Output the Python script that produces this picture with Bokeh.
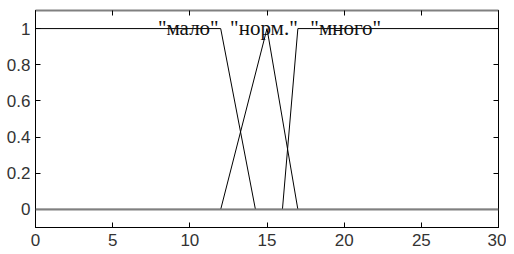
from bokeh.plotting import figure
from bokeh.models import LinearAxis, FixedTicker, CustomJSTickFormatter, Span, Range1d
from bokeh.core.properties import value
from bokeh.embed import file_html
from bokeh.resources import INLINE

# membership functions
malo_x = [0, 12, 14.25, 30]
malo_y = [1, 1, 0, 0]
norm_x = [0, 12, 15, 17, 30]
norm_y = [0, 0, 1, 0, 0]
mnogo_x = [0, 16, 17, 30]
mnogo_y = [0, 0, 1, 1]

label_text = ['"мало"', '"норм."', '"много"']
label_x = [9.9, 14.8, 20.1]
label_y = [1.0, 1.0, 1.0]

x_ticks = [0, 5, 10, 15, 20, 25, 30]
y_ticks = [0, 0.2, 0.4, 0.6, 0.8, 1]

p = figure(width=506, height=250, output_backend="svg", toolbar_location=None,
           x_range=Range1d(0, 30), y_range=Range1d(-0.1, 1.1),
           x_axis_location=None, y_axis_location=None,
           min_border_left=35, min_border_right=8, min_border_top=10, min_border_bottom=23)
p.grid.visible = False
p.outline_line_color = "black"
p.background_fill_color = "white"
p.border_fill_color = "white"

fmt = CustomJSTickFormatter(code="return String(Math.round(tick*10)/10);")
blank = CustomJSTickFormatter(code="return '';")

def mk(side, ticks, show):
    ax = LinearAxis(ticker=FixedTicker(ticks=ticks), formatter=fmt if show else blank)
    ax.major_tick_in = 5
    ax.major_tick_out = 0
    ax.minor_tick_line_color = None
    ax.axis_line_color = "black"
    ax.major_tick_line_color = "black"
    ax.major_label_text_font = "Liberation Sans"
    ax.major_label_text_color = "#333333"
    ax.major_label_text_font_size = "17px"
    ax.major_label_standoff = 5 if show else 0
    p.add_layout(ax, side)
    return ax

bx = mk("below", x_ticks, True)
bx.major_label_standoff = 6
ly = mk("left", y_ticks, True)
top = mk("above", x_ticks, False)
top.axis_line_color = "#808080"
top.axis_line_width = 2
mk("right", y_ticks, False)

for xs, ys in [(malo_x, malo_y), (norm_x, norm_y), (mnogo_x, mnogo_y)]:
    p.line(xs, ys, line_color="black", line_width=1)

p.add_layout(Span(location=y_ticks[0], dimension="width", line_color="#808080", line_width=2))

p.text(x=label_x, y=label_y, text=label_text, text_font=value("Liberation Serif"),
       text_font_size="21px", text_align="center", text_baseline="alphabetic",
       text_color="#111111", y_offset=-1)

open("out.html", "w").write(file_html(p, INLINE))
